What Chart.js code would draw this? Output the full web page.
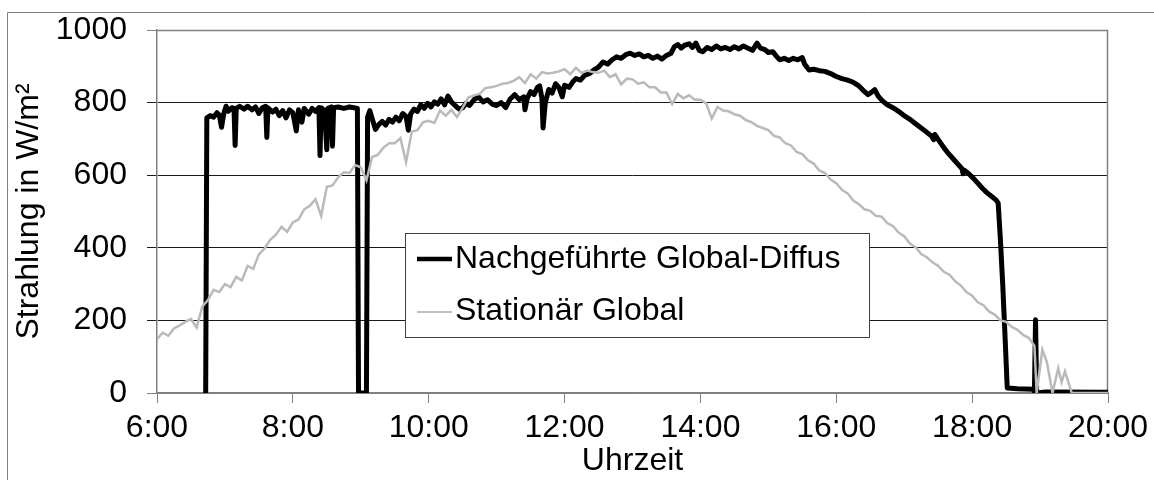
<!DOCTYPE html>
<html>
<head>
<meta charset="utf-8">
<script src="https://cdn.jsdelivr.net/npm/chart.js@4"></script>
<style>
html, body { margin: 0; padding: 0; background: #fff; }
canvas { display: block; }
</style>
</head>
<body>
<canvas id="strahlungChart" width="1154" height="480"></canvas>
<script>
// Achsenbeschriftung
var xTickLabels = ['6:00', '8:00', '10:00', '12:00', '14:00', '16:00', '18:00', '20:00'];
var serienNamen = ['Nachgeführte Global-Diffus', 'Stationär Global'];

// Nachgeführte Global-Diffus (Uhrzeit / W/m²)
var zeitNachgef = [
  '6:43','6:44','6:47','6:50','6:53','6:55','6:57','6:59',
  '7:01','7:03','7:06','7:08','7:09','7:10','7:13','7:17','7:20','7:24','7:27','7:30','7:33','7:36','7:37','7:38','7:42','7:45','7:48','7:51','7:54','7:57',
  '8:00','8:03','8:05','8:08','8:10','8:14','8:17','8:20','8:23','8:24','8:25','8:28','8:30','8:31','8:34','8:35','8:36','8:40','8:45','8:50','8:54','8:57','8:58',
  '9:05','9:06','9:08','9:10','9:13','9:16','9:19','9:22','9:25','9:28','9:31','9:34','9:37','9:40','9:42','9:44','9:47','9:50','9:53','9:56','9:59',
  '10:02','10:05','10:08','10:11','10:14','10:17','10:20','10:24','10:27','10:30','10:33','10:36','10:40','10:44','10:48','10:52','10:56',
  '11:00','11:04','11:08','11:12','11:16','11:20','11:24','11:25','11:27','11:30','11:33','11:36','11:38','11:40','11:41','11:43','11:46','11:49','11:52','11:55','11:58',
  '12:00','12:04','12:07','12:10','12:14','12:18','12:22','12:26','12:30','12:34','12:38','12:42','12:46','12:50','12:54','12:58',
  '13:02','13:06','13:10','13:14','13:18','13:22','13:26','13:30','13:34','13:37','13:40','13:43','13:46','13:50','13:53','13:56','13:59',
  '14:02','14:06','14:10','14:14','14:18','14:22','14:26','14:30','14:34','14:38','14:42','14:46','14:50','14:53','14:57',
  '15:00','15:04','15:07','15:10','15:14','15:18','15:22','15:26','15:30','15:32','15:36','15:40','15:45','15:50','15:55',
  '16:00','16:05','16:10','16:15','16:20','16:25','16:28','16:31','16:34','16:37','16:41','16:45','16:50','16:55',
  '17:00','17:05','17:10','17:15','17:20','17:24','17:26','17:27','17:31','17:35','17:39','17:43','17:47','17:51','17:52','17:53','17:57',
  '18:01','18:05','18:09','18:13','18:17','18:21','18:23','18:25','18:27','18:29','18:31','18:40','18:54','18:55','18:56','18:57','19:05','20:00'
];
var wertNachgef = [
  0,758,764,760,772,766,732,770,
  790,776,786,784,682,784,790,782,790,780,788,770,786,790,704,786,774,782,764,778,758,780,
  772,722,780,746,784,768,784,776,786,654,786,778,670,784,788,680,786,788,784,788,786,784,0,
  0,760,778,756,726,740,748,738,754,746,760,750,770,762,724,768,782,776,794,784,798,
  788,802,796,810,794,818,802,790,782,786,798,792,808,816,802,808,796,
  792,800,786,810,822,808,816,780,812,830,822,842,846,812,730,800,836,826,852,842,816,
  848,842,856,866,862,876,880,890,898,912,906,918,926,922,932,936,
  930,934,926,930,922,928,920,930,936,954,960,950,958,962,952,964,944,
  940,952,946,956,948,952,946,954,948,956,950,944,964,950,946,
  938,940,928,918,922,916,922,918,924,906,890,892,888,886,880,
  872,866,862,856,846,830,822,828,836,818,804,794,786,776,
  764,754,742,730,718,708,698,712,694,676,660,646,632,618,604,614,604,
  592,578,564,552,542,532,523,420,300,160,14,12,10,2,202,0,3,2
];

// Stationär Global (Uhrzeit / W/m²)
var zeitStationaer = [
  '6:00','6:05','6:10','6:15','6:20','6:25','6:30','6:35','6:40','6:45','6:50','6:55',
  '7:00','7:05','7:10','7:15','7:20','7:25','7:30','7:35','7:40','7:45','7:50','7:55',
  '8:00','8:05','8:10','8:15','8:20','8:25','8:30','8:35','8:40','8:45','8:50','8:55',
  '9:00','9:05','9:10','9:15','9:20','9:25','9:30','9:35','9:40','9:45','9:50','9:55',
  '10:00','10:05','10:10','10:15','10:20','10:25','10:30','10:35','10:40','10:45','10:50','10:55',
  '11:00','11:05','11:10','11:15','11:20','11:25','11:30','11:35','11:40','11:45','11:50','11:55',
  '12:00','12:05','12:10','12:15','12:20','12:25','12:30','12:35','12:40','12:45','12:50','12:55',
  '13:00','13:05','13:10','13:15','13:20','13:25','13:30','13:35','13:40','13:45','13:50','13:55',
  '14:00','14:05','14:10','14:15','14:20','14:25','14:30','14:35','14:40','14:45','14:50','14:55',
  '15:00','15:05','15:10','15:15','15:20','15:25','15:30','15:35','15:40','15:45','15:50','15:55',
  '16:00','16:05','16:10','16:15','16:20','16:25','16:30','16:35','16:40','16:45','16:50','16:55',
  '17:00','17:05','17:10','17:15','17:20','17:25','17:30','17:35','17:40','17:45','17:50','17:55',
  '18:00','18:05','18:10','18:15','18:20','18:25','18:30','18:35','18:40','18:45','18:50','18:55',
  '18:57','19:02','19:06','19:11','19:16','19:19','19:22','19:28','20:00'
];
var wertStationaer = [
  148,166,158,178,186,196,204,180,238,256,284,278,
  300,292,320,310,350,342,382,398,422,436,458,444,
  470,478,506,516,534,488,568,572,594,608,606,628,
  622,586,650,656,676,688,688,702,636,720,724,746,
  750,744,778,764,780,760,786,814,820,824,840,842,
  846,852,854,860,870,854,878,866,884,880,882,886,
  892,878,896,882,888,884,882,888,870,878,850,866,
  864,852,856,842,842,828,828,796,824,812,820,808,
  808,798,756,788,778,776,768,764,752,746,736,730,
  724,708,704,688,682,664,658,641,632,613,606,588,
  578,560,550,530,520,506,502,488,486,468,460,442,
  432,412,402,383,374,360,350,334,326,308,296,278,
  268,250,242,224,216,200,196,182,174,160,152,130,
  0,119,85,0,68,30,60,0,0
];

function zeitZuStunden(s) {
  var p = s.split(':');
  return Number(p[0]) + Number(p[1]) / 60;
}
function punkte(zeiten, werte) {
  return zeiten.map(function(z, i) { return { x: zeitZuStunden(z), y: werte[i] }; });
}

var schrift = '"Liberation Sans", Arial, sans-serif';
Chart.defaults.font.family = schrift;
Chart.defaults.color = '#000';

// Rahmen, Plotrand und Legende
var rahmenPlugin = {
  id: 'rahmen',
  beforeDraw: function(chart) {
    var ctx = chart.ctx;
    ctx.save();
    ctx.strokeStyle = '#808080';
    ctx.lineWidth = 1;
    ctx.beginPath();
    ctx.moveTo(7.5, 480);
    ctx.lineTo(7.5, 12.5);
    ctx.lineTo(1154, 12.5);
    ctx.stroke();
    ctx.restore();
  },
  beforeDatasetsDraw: function(chart) {
    var a = chart.chartArea, ctx = chart.ctx;
    ctx.save();
    ctx.strokeStyle = '#808080';
    ctx.lineWidth = 1.5;
    ctx.beginPath();
    ctx.moveTo(a.left, a.top + 0.5);
    ctx.lineTo(a.right - 0.5, a.top + 0.5);
    ctx.lineTo(a.right - 0.5, a.bottom);
    ctx.stroke();
    ctx.restore();
  },
  afterDatasetsDraw: function(chart) {
    var ctx = chart.ctx;
    ctx.save();
    ctx.fillStyle = '#fff';
    ctx.fillRect(405, 233, 464, 104);
    ctx.strokeStyle = '#404040';
    ctx.lineWidth = 1;
    ctx.strokeRect(405.5, 233.5, 464, 104);
    ctx.lineCap = 'butt';
    ctx.strokeStyle = '#000';
    ctx.lineWidth = 4.5;
    ctx.beginPath(); ctx.moveTo(417, 259); ctx.lineTo(452, 259); ctx.stroke();
    ctx.strokeStyle = '#c0c0c0';
    ctx.lineWidth = 2;
    ctx.beginPath(); ctx.moveTo(417, 312); ctx.lineTo(452, 312); ctx.stroke();
    ctx.fillStyle = '#000';
    ctx.font = '32px ' + schrift;
    ctx.textBaseline = 'middle';
    ctx.textAlign = 'left';
    ctx.fillText(serienNamen[0], 455, 259);
    ctx.fillText(serienNamen[1], 455, 311);
    ctx.restore();
  }
};

var ctx = document.getElementById('strahlungChart').getContext('2d');
var strahlungChart = new Chart(ctx, {
  type: 'line',
  data: {
    datasets: [{
      label: serienNamen[1],
      data: punkte(zeitStationaer, wertStationaer),
      borderColor: '#bababa',
      borderWidth: 2.5,
      pointRadius: 0,
      tension: 0,
      order: 0
    }, {
      label: serienNamen[0],
      data: punkte(zeitNachgef, wertNachgef),
      borderColor: '#000',
      borderWidth: 5,
      borderJoinStyle: 'round',
      borderCapStyle: 'round',
      pointRadius: 0,
      tension: 0,
      order: 1
    }]
  },
  options: {
    responsive: false,
    animation: false,
    devicePixelRatio: 1,
    layout: { padding: { left: 0, top: 30, right: 46, bottom: 0 } },
    plugins: {
      legend: { display: false },
      tooltip: { enabled: false }
    },
    scales: {
      x: {
        type: 'linear',
        position: 'bottom',
        min: 6,
        max: 20,
        afterFit: function(scale) {
          scale.height = 87;
          scale.paddingLeft = 0;
          scale.paddingRight = 0;
        },
        ticks: {
          stepSize: 2,
          autoSkip: false,
          maxRotation: 0,
          padding: 6,
          font: { size: 32 },
          color: '#000',
          callback: function(v) { return xTickLabels[Math.round((v - 6) / 2)]; }
        },
        grid: { drawOnChartArea: false, drawTicks: true, tickLength: 10, color: '#808080' },
        border: { color: '#808080', width: 1.5 },
        title: { display: true, text: 'Uhrzeit', font: { size: 32 }, color: '#000', padding: { top: 0, bottom: 0 } }
      },
      y: {
        min: 0,
        max: 1000,
        afterFit: function(scale) {
          scale.width = 157;
          scale.paddingTop = 0;
          scale.paddingBottom = 0;
        },
        ticks: {
          stepSize: 200,
          padding: 20,
          font: { size: 32 },
          color: '#000',
          callback: function(v) { return String(v); }
        },
        grid: {
          tickLength: 10,
          color: function(c) {
            return (c.tick && (c.tick.value === 0 || c.tick.value === 1000)) ? '#808080' : '#1a1a1a';
          }
        },
        border: { color: '#808080', width: 1.5 },
        title: { display: true, text: 'Strahlung in W/m²', font: { size: 32 }, color: '#000', padding: { top: 10, bottom: 0 } }
      }
    }
  },
  plugins: [rahmenPlugin]
});
</script>
</body>
</html>
